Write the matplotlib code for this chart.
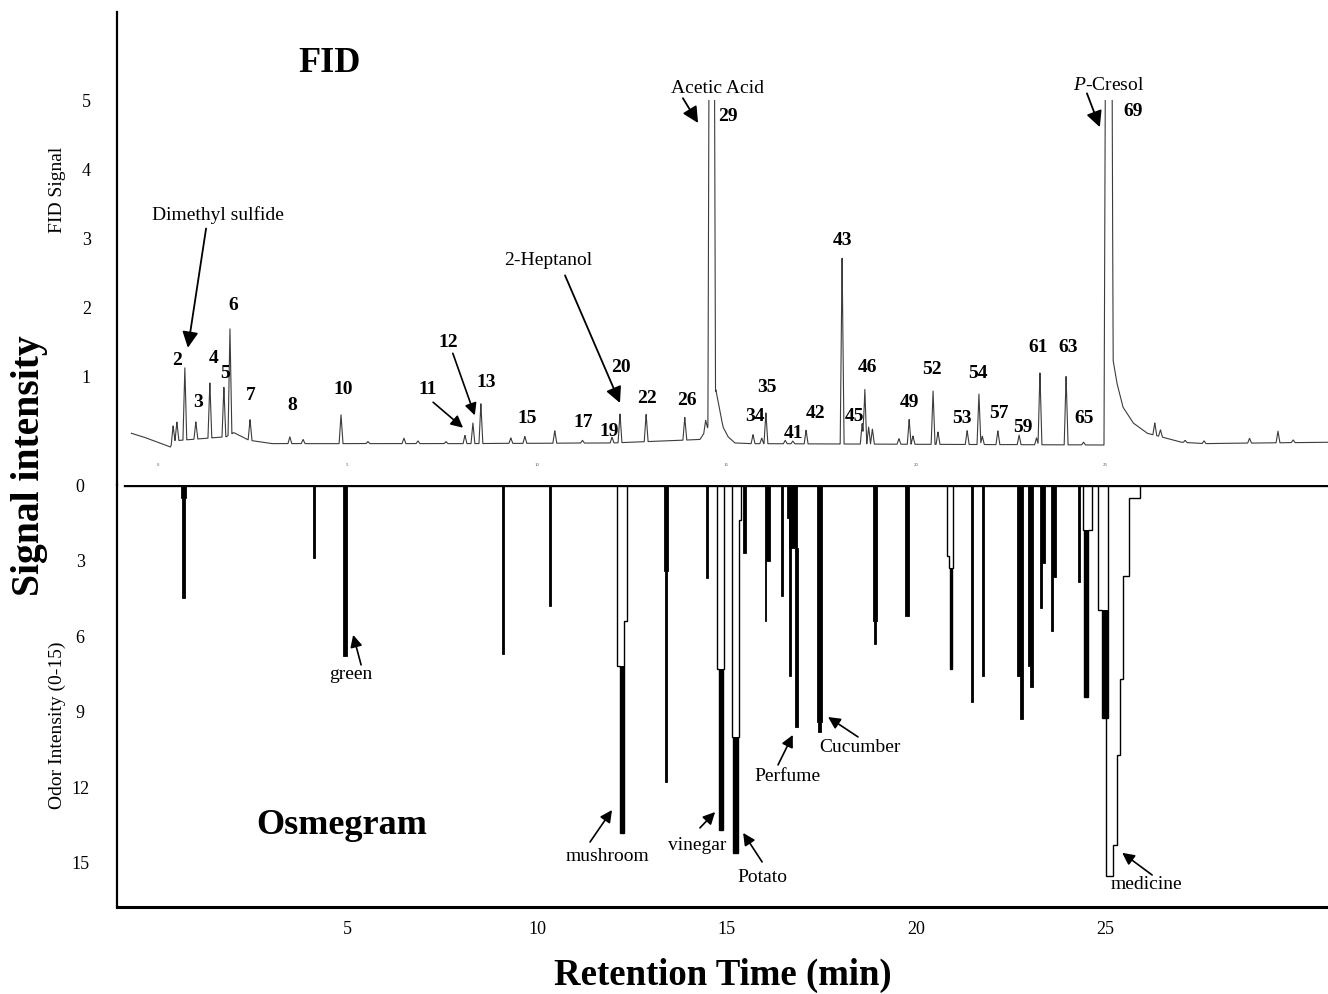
import numpy as np
import matplotlib
matplotlib.use("Agg")
import matplotlib.pyplot as plt
from matplotlib.patches import Polygon, Rectangle

plt.rcParams['font.family'] = ['Liberation Serif', 'DejaVu Serif']
plt.rcParams['mathtext.fontset'] = 'custom'
plt.rcParams['mathtext.rm'] = 'Liberation Serif'
plt.rcParams['mathtext.it'] = 'Liberation Serif:italic'

# ------------------------------------------------------------------ data
# FID chromatogram: on-scale peaks (retention time in min, height above baseline)
fid_peak_time = [0.40, 0.50, 0.71, 1.00, 1.37, 1.74, 1.90, 2.43, 3.48, 3.83,
                 4.83, 5.54, 6.49, 6.86, 7.60, 8.10, 8.31, 8.52, 9.31, 9.68,
                 10.47, 11.20, 11.98, 12.19, 12.88, 13.90, 14.45, 15.70, 15.93, 16.04,
                 16.55, 16.75, 17.10, 18.05, 18.58, 18.65, 18.75, 18.85, 19.55, 19.82,
                 19.92, 20.45, 20.58, 21.35, 21.66, 21.75, 22.16, 22.72, 23.18, 23.27,
                 23.96, 24.42, 26.30, 26.45, 27.10, 27.60, 28.80, 29.55, 29.95]
fid_peak_height = [0.22, 0.27, 1.05, 0.25, 0.80, 0.72, 1.55, 0.30, 0.10, 0.06,
                   0.42, 0.03, 0.08, 0.04, 0.03, 0.12, 0.30, 0.58, 0.08, 0.10,
                   0.18, 0.04, 0.08, 0.42, 0.40, 0.33, 0.15, 0.13, 0.08, 0.45,
                   0.05, 0.04, 0.20, 2.70, 0.30, 0.80, 0.25, 0.22, 0.08, 0.36,
                   0.12, 0.78, 0.18, 0.20, 0.74, 0.12, 0.20, 0.14, 0.10, 1.05,
                   1.00, 0.04, 0.18, 0.10, 0.03, 0.04, 0.07, 0.17, 0.04]
# off-scale peaks (29 acetic acid, 69 p-cresol)
fid_big_time = [14.61, 25.08]
fid_big_height = [18.0, 18.0]
# baseline / tailing of the trace
fid_base_time = [-0.70, -0.40, 0.00, 0.33, 0.40, 1.80, 2.00, 2.40, 3.00, 8.00,
                 12.00, 14.30, 14.50, 14.72, 14.83, 14.91, 15.04, 15.22, 15.60, 25.00,
                 25.17, 25.20, 25.30, 25.46, 25.73, 26.10, 26.60, 27.00, 27.60, 30.90]
fid_base_level = [0.17, 0.12, 0.04, -0.03, 0.06, 0.12, 0.18, 0.07, 0.02, 0.02,
                  0.03, 0.08, 0.25, 0.80, 0.48, 0.26, 0.12, 0.03, 0.02, 0.00,
                  1.60, 1.23, 0.90, 0.55, 0.32, 0.17, 0.10, 0.04, 0.02, 0.04]

peak_ids = ['2', '3', '4', '5', '6', '7', '8', '10', '11', '12', '13', '15', '17',
            '19', '20', '22', '26', '29', '34', '35', '41', '42', '43', '45', '46',
            '49', '52', '53', '54', '57', '59', '61', '63', '65', '69']

# Osmegram: stepped odour-response profiles, one row per intensity step
osm_group = [0, 0, 1, 2, 3, 4,
             5, 5, 5, 6, 6, 7, 8, 8, 9, 9, 9, 10, 11, 11, 12,
             13, 13, 13, 14, 15, 15, 16, 16, 17, 18, 18, 18, 19, 20,
             21, 21, 22, 22, 23, 23, 24, 24, 25, 26, 26, 27, 27,
             28, 28, 28, 28, 28, 28]
osm_depth = [0.5, 4.5, 2.9, 6.8, 6.7, 4.8,
             5.4, 7.2, 13.8, 3.4, 11.8, 3.7, 7.3, 13.7, 1.4, 10.0, 14.6, 2.7, 3.0, 5.4, 4.4,
             1.3, 2.5, 9.6, 7.6, 9.4, 9.8, 5.4, 6.3, 5.2, 2.8, 3.3, 7.3, 8.6, 7.6,
             7.6, 9.3, 7.2, 8.0, 3.1, 4.9, 3.65, 5.8, 3.85, 1.8, 8.4, 4.96, 9.25,
             0.5, 3.6, 7.7, 10.7, 14.3, 15.5]
osm_left = [0.61, 0.635, 4.10, 4.89, 9.085, 10.325,
            12.11, 12.11, 12.20, 13.35, 13.38, 14.47, 14.75, 14.815, 15.145, 15.145, 15.185,
            15.43, 16.01, 16.005, 16.445,
            16.60, 16.65, 16.81, 16.66, 17.39, 17.425, 18.865, 18.905, 19.71,
            20.82, 20.87, 20.885, 21.46, 21.75,
            22.665, 22.74, 22.955, 23.02, 23.27, 23.275, 23.56, 23.57, 24.285,
            24.41, 24.42, 24.80, 24.90,
            25.013, 25.013, 25.013, 25.013, 25.013, 25.013]
osm_right = [0.74, 0.715, 4.135, 4.98, 9.12, 10.36,
             12.375, 12.30, 12.30, 13.46, 13.43, 14.505, 14.935, 14.92, 15.385, 15.33, 15.30,
             15.52, 16.15, 16.05, 16.48,
             16.86, 16.86, 16.875, 16.695, 17.52, 17.505, 18.97, 18.955, 19.815,
             20.975, 20.975, 20.94, 21.495, 21.785,
             22.825, 22.81, 23.09, 23.075, 23.405, 23.33, 23.69, 23.62, 24.32,
             24.645, 24.54, 25.065, 25.065,
             25.91, 25.62, 25.462, 25.383, 25.303, 25.198]
osm_solid = [1, 1, 1, 1, 1, 1,
             0, 0, 1, 1, 1, 1, 0, 1, 0, 0, 1, 1, 1, 1, 1,
             1, 1, 1, 1, 1, 1, 1, 1, 1, 0, 0, 1, 1, 1,
             1, 1, 1, 1, 1, 1, 1, 1, 1, 0, 1, 0, 1,
             0, 0, 0, 0, 0, 0]

odor_labels = ['green', 'mushroom', 'vinegar', 'Potato', 'Perfume', 'Cucumber', 'medicine']
compound_labels = ['Dimethyl sulfide', '2-Heptanol', 'Acetic Acid', '$\\mathit{P}$-Cresol']

fid_ticks = [1, 2, 3, 4, 5]
odor_ticks = [0, 3, 6, 9, 12, 15]
time_ticks = [5, 10, 15, 20, 25]
fid_inner_ticks = [0, 5, 10, 15, 20, 25]

# ------------------------------------------------------------------ layout
W, H = 1328, 994
fig = plt.figure(figsize=(W / 100, H / 100), dpi=100)


def box(x0, y0, x1, y1):
    return [x0 / W, 1 - y1 / H, (x1 - x0) / W, (y1 - y0) / H]


ax_top = fig.add_axes(box(117, 12, 1328, 485))
ax_bot = fig.add_axes(box(117, 485, 1328, 907))
XLIM = (-1.08, 30.87)
for ax in (ax_top, ax_bot):
    ax.set_xlim(*XLIM)
    ax.patch.set_alpha(0)
ax_top.set_ylim(-0.58, 6.28)
ax_bot.set_ylim(16.75, 0)

# ------------------------------------------------------------------ FID trace
t = np.linspace(-0.70, 30.90, 24000)
sig = np.interp(t, fid_base_time, fid_base_level)
for ti, hi in zip(fid_peak_time, fid_peak_height):
    sig = sig + hi * np.clip(1 - np.abs(t - ti) / 0.05, 0, None)
for ti, hi, w in zip(fid_big_time, fid_big_height, [0.10, 0.12]):
    sig = sig + hi * np.clip(1 - np.abs(t - ti) / w, 0, None)
line, = ax_top.plot(t, sig, color='#3c3c3c', lw=0.8)
clip = Rectangle((XLIM[0], -1.0), XLIM[1] - XLIM[0], 6.0, transform=ax_top.transData)
line.set_clip_path(clip)

for v in fid_inner_ticks:
    ax_top.text(v, -0.29, str(v), fontsize=3.5, color='#555555', ha='center', va='center')

# peak number labels (data coords)
peak_pos = [(0.50, 1.23), (1.06, 0.62), (1.48, 1.26), (1.77, 1.04), (1.98, 2.03),
            (2.45, 0.72), (3.54, 0.58), (4.88, 0.81), (7.12, 0.80), (7.65, 1.48),
            (8.65, 0.91), (9.74, 0.39), (11.21, 0.32), (11.90, 0.19), (12.22, 1.13),
            (12.90, 0.67), (13.96, 0.65), (15.04, 4.77), (15.75, 0.41), (16.07, 0.83),
            (16.78, 0.16), (17.34, 0.46), (18.07, 2.97), (18.39, 0.41), (18.73, 1.12),
            (19.82, 0.61), (20.42, 1.09), (21.21, 0.39), (21.64, 1.04), (22.19, 0.46),
            (22.82, 0.26), (23.22, 1.42), (24.01, 1.41), (24.43, 0.38), (25.73, 4.83)]
for lab, (x, y) in zip(peak_ids, peak_pos):
    ax_top.text(x, y, lab, fontsize=14, fontweight='bold', ha='center', va='center')

arrow = dict(arrowstyle='-|>', color='black', lw=1.3, mutation_scale=24,
             shrinkA=0, shrinkB=0)
arrow_small = dict(arrowstyle='-|>', color='black', lw=1.2, mutation_scale=18,
                   shrinkA=0, shrinkB=0)

comp_text_pos = [(1.58, 3.33), (10.29, 2.68), (14.75, 5.17), (25.07, 5.22)]
comp_arrow = [((1.27, 3.14), (0.79, 1.41)), ((10.74, 2.46), (12.19, 0.61)),
              ((13.85, 5.03), (14.25, 4.67)), ((24.51, 5.10), (24.85, 4.61))]
for lab, (x, y), (a0, a1) in zip(compound_labels, comp_text_pos, comp_arrow):
    ax_top.text(x, y, lab, fontsize=14, ha='center', va='center')
    ax_top.annotate('', xy=a1, xytext=a0, arrowprops=arrow)
ax_top.annotate('', xy=(8.05, 0.25), xytext=(7.26, 0.62), arrowprops=arrow_small)
ax_top.annotate('', xy=(8.36, 0.43), xytext=(7.78, 1.33), arrowprops=arrow_small)

ax_top.text(4.53, 5.54, 'FID', fontsize=26, fontweight='bold', ha='center', va='center')

# ------------------------------------------------------------------ Osmegram
groups = sorted(set(osm_group))
rows = list(zip(osm_group, osm_depth, osm_left, osm_right, osm_solid))
for g in groups:
    lv = [r for r in rows if r[0] == g]
    outline = any(r[4] == 0 for r in lv)
    verts = [(lv[0][2], 0.0)]
    prev = 0.0
    for _, d, l, r, s in lv:
        verts += [(l, prev), (l, d)]
        prev = d
    verts.append((lv[-1][3], lv[-1][1]))
    for i in range(len(lv) - 1, -1, -1):
        dprev = lv[i - 1][1] if i > 0 else 0.0
        verts += [(lv[i][3], lv[i][1]), (lv[i][3], dprev)]
    if outline:
        z = 1.5 if g == 28 else 2
        ax_bot.add_patch(Polygon(verts, closed=True, facecolor='white',
                                 edgecolor='black', lw=1.0, zorder=z, joinstyle='miter'))
        prev = 0.0
        for _, d, l, r, s in lv:
            if s:
                ax_bot.bar(l, d - prev, width=r - l, bottom=prev, align='edge',
                           color='black', lw=0, zorder=3)
            prev = d
    else:
        ax_bot.add_patch(Polygon(verts, closed=True, facecolor='black',
                                 edgecolor='black', lw=0.6, zorder=3))

ax_bot.axhline(0, xmin=0.0066, color='black', lw=2.4, zorder=4)

odor_text_pos = [(5.09, 7.54), (11.85, 14.76), (14.22, 14.29), (15.96, 15.56),
                 (16.60, 11.59), (18.52, 10.40), (26.09, 15.87)]
odor_arrow = [((5.36, 7.14), (5.15, 5.95)), ((11.40, 14.17), (11.98, 12.90)),
              ((14.30, 13.61), (14.70, 12.98)), ((15.94, 14.96), (15.44, 13.81)),
              ((16.36, 11.11), (16.75, 9.92)), ((18.47, 10.0), (17.68, 9.21)),
              ((26.23, 15.48), (25.44, 14.60))]
for lab, (x, y), (a0, a1) in zip(odor_labels, odor_text_pos, odor_arrow):
    ax_bot.text(x, y, lab, fontsize=14, ha='center', va='center', zorder=5)
    ax_bot.annotate('', xy=a1, xytext=a0, arrowprops=arrow_small, zorder=5)

ax_bot.text(4.85, 13.50, 'Osmegram', fontsize=26, fontweight='bold',
            ha='center', va='center')

# ------------------------------------------------------------------ axes styling
for sp in ('top', 'right', 'bottom'):
    ax_top.spines[sp].set_visible(False)
for sp in ('top', 'right'):
    ax_bot.spines[sp].set_visible(False)
ax_top.spines['left'].set_linewidth(1.6)
ax_bot.spines['left'].set_linewidth(1.6)
ax_bot.spines['bottom'].set_linewidth(2.2)

ax_top.set_xticks([])
ax_top.set_yticks(fid_ticks)
ax_top.set_yticklabels([str(v) for v in fid_ticks])
ax_top.tick_params(axis='y', length=0, pad=22, labelsize=13)
for lab in ax_top.get_yticklabels():
    lab.set_ha('center')

ax_bot.set_yticks(odor_ticks)
ax_bot.set_yticklabels([str(v) for v in odor_ticks])
ax_bot.tick_params(axis='y', length=0, pad=26.5, labelsize=13)
for lab in ax_bot.get_yticklabels():
    lab.set_ha('center')
ax_bot.set_xticks(time_ticks)
ax_bot.set_xticklabels([str(v) for v in time_ticks])
ax_bot.tick_params(axis='x', length=0, pad=10, labelsize=13)

fig.text(57 / W, 1 - 190 / H, 'FID Signal', rotation=90, fontsize=14,
         ha='center', va='center')
fig.text(57 / W, 1 - 725 / H, 'Odor Intensity (0-15)', rotation=90, fontsize=14,
         ha='center', va='center')
fig.text(30 / W, 1 - 466 / H, 'Signal intensity', rotation=90, fontsize=28.5,
         fontweight='bold', ha='center', va='center')
fig.text(723 / W, 1 - 975 / H, 'Retention Time (min)', fontsize=26.5,
         fontweight='bold', ha='center', va='center')

fig.savefig('out.png', dpi=100)
